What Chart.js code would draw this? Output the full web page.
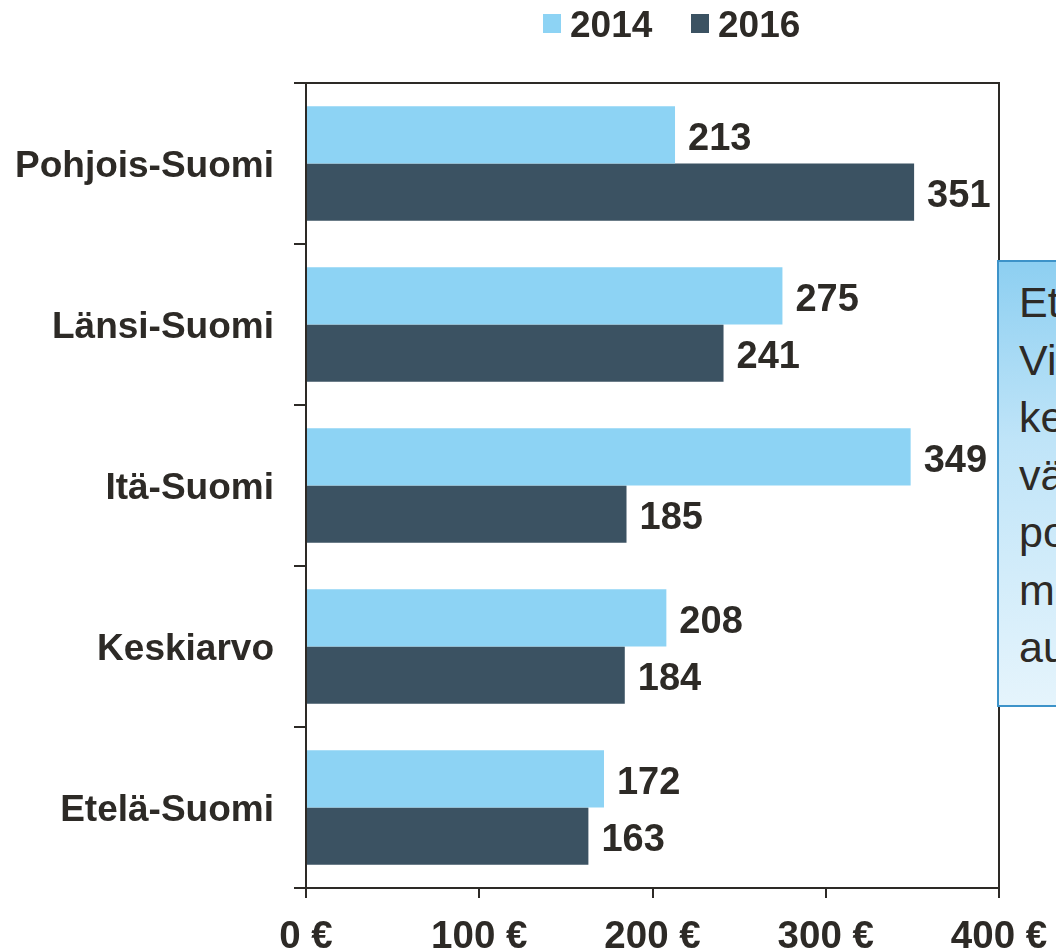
<!DOCTYPE html>
<html>
<head>
<meta charset="utf-8">
<script src="https://cdn.jsdelivr.net/npm/chart.js@4.4.1/dist/chart.umd.min.js"></script>
<style>
  html, body { margin: 0; padding: 0; background: #ffffff; overflow: hidden; }
  #wrap { position: relative; width: 1056px; height: 952px; overflow: hidden; }
  #c { position: absolute; left: 0; top: 0; }
  #note {
    position: absolute; left: 997px; top: 260px; width: 140px; height: 447px;
    box-sizing: border-box; border: 2px solid #3d93c9;
    background: linear-gradient(to bottom, #8dcff1 0%, #bfe4f8 40%, #e5f4fc 100%);
    font-family: 'Liberation Sans', Arial, sans-serif; font-size: 43px; color: #2d2a26;
    line-height: 57.5px; padding: 12px 0 0 20px; white-space: nowrap;
  }
</style>
</head>
<body>
<div id="wrap">
  <canvas id="c" width="1056" height="952"></canvas>
  <div id="note">Et<br>Vi<br>ke<br>vä<br>po<br>m<br>au</div>
</div>
<script>
const categories = ['Pohjois-Suomi', 'Länsi-Suomi', 'Itä-Suomi', 'Keskiarvo', 'Etelä-Suomi'];
const seriesNames = ['2014', '2016'];
const values2014 = [213, 275, 349, 208, 172];
const values2016 = [351, 241, 185, 184, 163];
const xTicks = [0, 100, 200, 300, 400];
const colors = ['#8dd3f4', '#3b5262'];

const TXT = '#2d2a26';
const FONT = "'Liberation Sans', Arial, sans-serif";

const frameAndLabels = {
  id: 'frameAndLabels',
  afterDraw(chart) {
    const ctx = chart.ctx;
    const a = chart.chartArea;
    ctx.save();
    ctx.strokeStyle = TXT;
    ctx.lineWidth = 2;
    ctx.beginPath();
    ctx.moveTo(a.left, a.top);
    ctx.lineTo(a.right, a.top);
    ctx.lineTo(a.right, a.bottom);
    ctx.stroke();
    ctx.fillStyle = TXT;
    ctx.font = 'bold 38px ' + FONT;
    ctx.textAlign = 'left';
    ctx.textBaseline = 'alphabetic';
    chart.data.datasets.forEach((ds, di) => {
      const meta = chart.getDatasetMeta(di);
      meta.data.forEach((el, i) => {
        ctx.fillText(String(ds.data[i]), el.x + 13, el.y + 15);
      });
    });
    const legendPos = [{ box: 543, text: 570 }, { box: 691, text: 718 }];
    ctx.font = 'bold 37px ' + FONT;
    chart.data.datasets.forEach((ds, di) => {
      const p = legendPos[di];
      ctx.fillStyle = ds.backgroundColor;
      ctx.fillRect(p.box, 14, 18, 19);
      ctx.fillStyle = TXT;
      ctx.fillText(ds.label, p.text, 37);
    });
    ctx.restore();
  }
};

new Chart(document.getElementById('c'), {
  type: 'bar',
  data: {
    labels: categories,
    datasets: [
      { label: seriesNames[0], data: values2014, backgroundColor: colors[0] },
      { label: seriesNames[1], data: values2016, backgroundColor: colors[1] }
    ]
  },
  options: {
    indexAxis: 'y',
    responsive: false,
    animation: false,
    devicePixelRatio: 1,
    layout: { padding: { top: 83, right: 57, left: 0, bottom: 0 } },
    datasets: { bar: { categoryPercentage: 0.71, barPercentage: 1.0 } },
    plugins: { legend: { display: false }, tooltip: { enabled: false } },
    scales: {
      x: {
        min: 0, max: 400,
        afterBuildTicks(scale) { scale.ticks = xTicks.map(v => ({ value: v })); },
        afterFit(scale) { scale.height = 64; scale.paddingLeft = 0; scale.paddingRight = 0; },
        grid: { drawOnChartArea: false, drawTicks: true, tickLength: 10, color: TXT, lineWidth: 2 },
        border: { display: true, color: TXT, width: 2 },
        ticks: {
          color: TXT, padding: 16, maxRotation: 0,
          font: { family: FONT, size: 38.5, weight: 'bold' },
          callback: (v) => v + ' €'
        }
      },
      y: {
        afterFit(scale) { scale.width = 306; scale.paddingTop = 0; scale.paddingBottom = 0; },
        grid: { drawOnChartArea: false, drawTicks: true, tickLength: 12, color: TXT, lineWidth: 2, offset: true },
        border: { display: true, color: TXT, width: 2 },
        ticks: {
          color: TXT, padding: 20, labelOffset: 3,
          font: { family: FONT, size: 37, weight: 'bold' }
        }
      }
    }
  },
  plugins: [frameAndLabels]
});
</script>
</body>
</html>
